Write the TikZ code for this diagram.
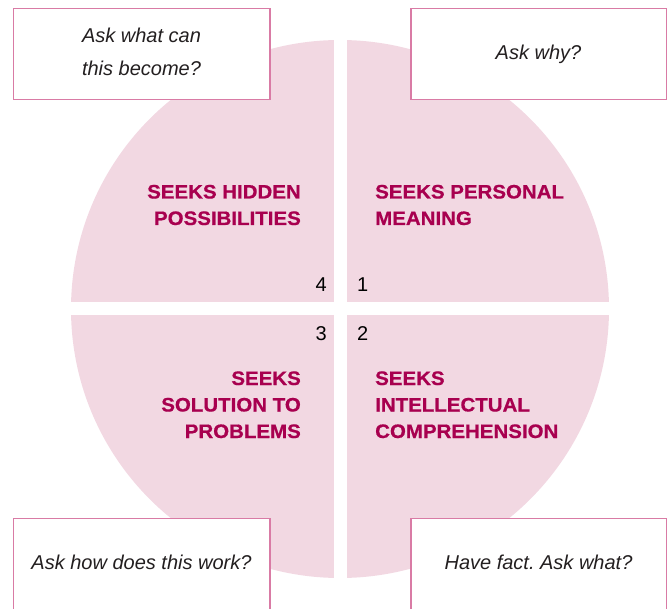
\documentclass[tikz,border=0pt]{standalone}
\usepackage{fontspec}
\setmainfont{Liberation Sans}
\newfontfamily\headfont[FakeStretch=1.05,FakeBold=0.6]{Liberation Sans}
\definecolor{petal}{HTML}{F2D8E2}
\definecolor{crimson}{HTML}{A8004F}
\definecolor{frame}{HTML}{D97BA5}
\definecolor{ink}{HTML}{231F20}
\tikzset{
  qbox/.style={draw=frame, line width=1.4pt, fill=white},
  head/.style={inner sep=0pt, text=crimson, font=\headfont\bfseries\fontsize{19.5}{26.5}\selectfont},
  ask/.style={inner sep=0pt, text=ink, font=\itshape\fontsize{20}{33}\selectfont, align=center},
  num/.style={inner sep=0pt, text=black, font=\fontsize{20}{24}\selectfont}
}
\begin{document}
\frenchspacing
\begin{tikzpicture}[x=1pt, y=-1pt]
  \useasboundingbox (0,0) rectangle (669,609);
  % four quarters of the disc, separated by a white cross
  \begin{scope}
    \clip (340,309) circle (269);
    \fill[petal] (60,30) rectangle (334,302);
    \fill[petal] (347,30) rectangle (620,302);
    \fill[petal] (60,315) rectangle (334,590);
    \fill[petal] (347,315) rectangle (620,590);
  \end{scope}
  % question boxes
  \draw[qbox] (13.5,8.5) rectangle (270,99.5);
  \draw[qbox] (411,8.5) rectangle (666.5,99.5);
  \draw[qbox] (13.5,518.5) rectangle (270,612);
  \draw[qbox] (411,518.5) rectangle (666.5,612);
  % (the base anchor of a multi-line node sits on its last line)
  \node[ask, anchor=base] (q4) at (141.5,76) {Ask what can\\this become?};
  \node[ask, anchor=base] (q1) at (538.5,60) {Ask why?};
  \node[ask, anchor=base] (q3) at (141.5,569) {Ask how does this work?};
  \node[ask, anchor=base] (q2) at (538.5,569) {Have fact. Ask what?};
  % quadrant headings
  \node[head, align=right, anchor=base east] (h4) at (301,225) {SEEKS HIDDEN\\POSSIBILITIES};
  \node[head, align=left, anchor=base west] (h1) at (375,225) {SEEKS PERSONAL\\MEANING};
  \node[head, align=right, anchor=base east] (h3) at (301,438) {SEEKS\\SOLUTION TO\\PROBLEMS};
  \node[head, align=left, anchor=base west] (h2) at (375,438) {SEEKS\\INTELLECTUAL\\COMPREHENSION};
  % quadrant numbers
  \node[num, anchor=base east] (n4) at (327,292) {4};
  \node[num, anchor=base west] (n1) at (357,292) {1};
  \node[num, anchor=base east] (n3) at (327,341) {3};
  \node[num, anchor=base west] (n2) at (357,341) {2};
\end{tikzpicture}
\end{document}
